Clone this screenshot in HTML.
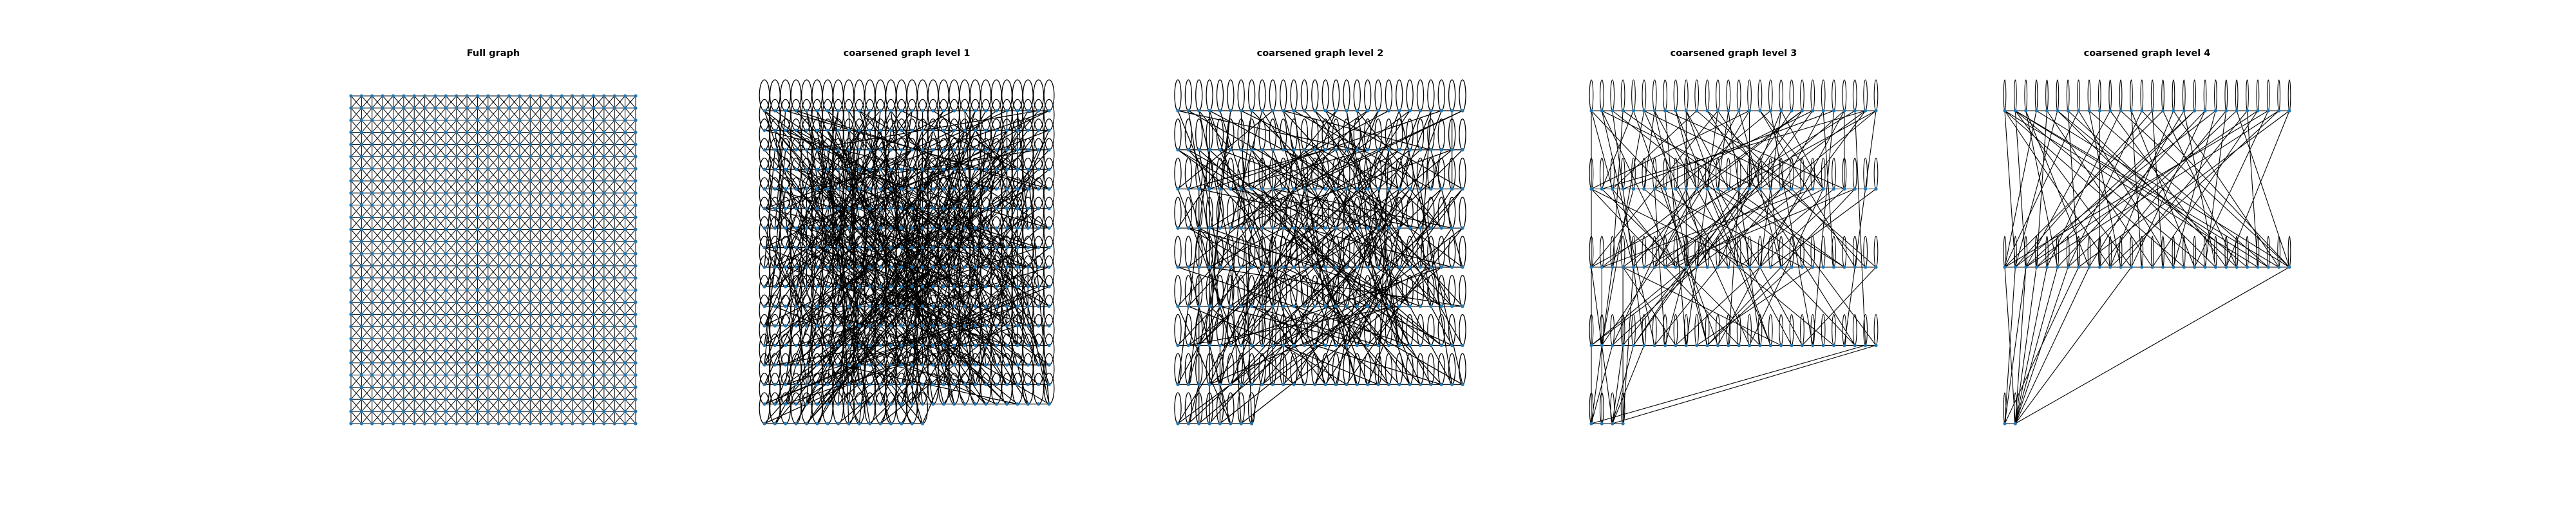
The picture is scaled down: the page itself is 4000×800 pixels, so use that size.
<!DOCTYPE html>
<html><head><meta charset="utf-8"><style>
html,body{margin:0;padding:0;background:#fff;}
svg{display:block;}
</style></head><body>
<svg id="fig" width="4000" height="800" viewBox="0 0 4000 800" xmlns="http://www.w3.org/2000/svg">
<rect width="4000" height="800" fill="#fff"/>
</svg>
<script>
const titles = ["Full graph","coarsened graph level 1","coarsened graph level 2","coarsened graph level 3","coarsened graph level 4"];
const rowCounts = [28, 17, 9, 5, 3];
const lastRowNodes = [28, 16, 8, 4, 2];
const l1Edges = [12,305,45,390,3,211,88,460,140,27,201,333,67,415,299,8,150,372,19,244,400,76,233,118,5,458,321,99,178,441,56,263,412,137,270,31,93,350,188,452,2,169,346,210,121,439,64,287,379,15,250,162,33,401,455,223,110,318,287,47,196,430,72,257,364,129,9,195,238,391,145,60,423,272,81,336,307,182,26,449,160,295,398,53,214,113,352,5,41,279,444,171,129,362,276,94,58,414,189,248,331,23,103,385,462,199,17,341,226,70,371,156,135,421,292,38,79,260,410,141,250,437,14,308,183,106,339,251,63,456,207,29,388,173,124,316,0,229,301,86,447,163,36,398,170,271,355,117,96,435,241,52,419,190,151,343,68,283,313,7,203,400,28,134,430,259,112,377,264,21,382,148,48,320,197,457,337,101,6,236,159,409,425,83,273,192,90,361,216,44,367,288,139,2,452,212,57,328,295,132,177,418,22,253,405,75,243,366,108,13,359,226,84,443,221,154,440,34,162,297,30,389,317,107,198,61,461,246,74,340,254,176,392,12,119,303,11,428,280,147,171,55,416,215,51,371,334,123,206,463,91,18,373,267,154,438,283,39,27,196,448,304,115,82,240,424,384,157,62,231,326,0,186,403,431,104,1,277,259,379,142,46,397,184,97,325,311,222,46,451,230,128,364,58,166,394,12,266,453,131,286,405,77,149,420,279,193,24,347,114,37,364,266,201,408,89,133,315,20,453,312,168,175,68,436,238,99,307,252,10,381,143,54,426,219,186,340,42,144,349,458,275,70,120,297,412,4,202,191,331,427,65,116,256,260,447,35,178,389,298,164,19,323,433,85,235,447,109,209,356,16,139,362,74,278,420,102,262,434,187,49,300,245,33,376,412,126,80,199,358,412,213,60,26,305,459,181,124,8,345,350,205,95,445,256,98,441,321,138,3,289,436,31,219,394,144,172,272,413,29,106,382,224,57,456,165,80,311,333,249,13,174,202,422,369,111,147,37,284,385,44,292,428,194,187,9,344,363,118,232,20,404,262,86,399,170,71,434,236,136,319,14,153,381,445,274,107,48,263,329,39,209,386,101,211,448,132,293,451,72,299,158,24,360,178,241,403,25,87,273,342,180,227,463,0,122,365,329,165,412,308,63,52,225,434,316,195,92,281,442,123,17,395,206,66,342,245,154,457,40,158,270,29,396,316,88,212,183,371,444,92,234,438,9,137,308,253,117,10,368,380,200,173,424,269,51,47,157,421,285,222,87,304,394,89,249,443,145,157,30,357,232,34,415,231,185,401,64,114,336,291,100,55,463,185,209,360,127,7,283,449,179,246,360,125,43,332,422,78,193,415,270,169,11,275,381,43,239,390,130,215,452,140,320,23,71,368,240,100,406,249,140,433,50,182,294,306,6,61,377,427,218,148,285,39,437,328,196,204,37,459,108,82,353,232,4];
const l2Edges = [0,45,3,120,15,201,27,88,40,166,56,9,71,190,84,33,99,145,110,212,6,77,123,51,137,230,148,19,160,94,175,2,188,63,199,128,214,37,225,81,11,154,32,180,47,109,58,226,66,140,79,17,91,202,103,58,117,171,130,24,143,207,155,72,168,119,179,4,193,96,206,150,218,43,229,113,20,62,35,185,50,131,64,221,75,12,87,163,98,29,114,198,126,85,139,52,151,216,164,107,176,36,187,147,200,67,212,178,223,21,8,99,24,135,39,213,53,80,69,157,82,26,95,192,107,61,121,174,134,7,146,103,158,228,170,49,183,124,195,14,208,90,219,156,1,70,17,189,30,116,44,224,60,5,73,139,86,210,101,41,115,167,128,92,141,18,153,203,166,76,177,136,191,30,204,111,216,64,228,172,13,104,28,193,42,57,55,152,68,231,80,11,93,176,106,38,119,125,132,209,144,1,156,86,169,161,181,47,196,118,209,23,221,181,5,143,22,68,37,205,49,93,63,18,77,169,89,54,102,222,116,133,129,35,142,197,154,78,167,10,180,158,194,44,207,129,220,100,231,6,10,126,25,59,41,219,54,148,67,27,81,184,94,115,108,3,120,199,133,65,147,182,159,31,172,137,184,83,198,225,211,48,224,155,7,200,21,74,36,165,52,10,65,110,78,227,92,42,105,187,118,97,131,16,145,153,157,218,171,60,186,144,197,8,210,122,222,79,2,33,19,179,34,102,48,215,61,46,76,130,90,15,104,204,113,66,127,162,140,229,152,95,165,28,178,191,190,112,203,56,215,141,227,3,14,83,31,196,45,121,59,0,72,170,85,223,97,50,111,186,124,22,138,114,150,211,162,40,174,149,189,75,201,127,213,9,226,108,16,159,29,217,43,87,57,173,70,32,83,206,96,138,109,13,122,194,136,71,149,39,161,214,173,101,185,25,199,160,210,82,230,117];
const l3Edges = [0,35,0,60,1,44,1,90,2,31,2,77,3,58,4,29,4,96,5,48,5,85,6,33,6,70,7,52,8,38,8,101,9,65,10,30,10,83,11,47,12,56,12,93,13,40,14,74,15,28,15,62,16,50,17,36,17,105,18,68,19,42,20,57,20,88,21,34,22,46,22,79,23,31,24,63,25,41,25,110,26,29,27,54,27,84,28,71,29,100,30,64,31,89,32,58,33,107,34,76,35,95,36,69,37,86,38,60,39,103,40,80,41,59,42,97,43,66,44,111,45,74,46,90,47,61,48,84,49,57,50,99,51,70,52,92,53,63,54,108,55,73,28,98,31,60,34,91,37,67,40,104,43,87,47,82,50,64,53,95,56,78,59,102,62,85,65,91,68,57,71,100,74,109,77,94,80,62,83,104,86,66,89,111,92,59,95,75,98,84,112,58,112,86,112,84,113,57,114,85,114,87,114,88,114,89,114,56,115,59,115,60,114,111,112,110,3,80,9,101,14,62,19,88,24,96,26,71,11,109,7,93,16,81,21,66,23,105,18,72,13,100,6,95,1,64,27,56,26,62,0,84,5,99,9,41,15,43,20,38,24,52,12,45,18,50];
const l4Edges = [0,29,0,38,0,45,0,52,1,30,1,40,1,47,1,53,1,54,2,33,2,36,3,28,3,55,4,31,4,42,5,29,5,48,5,51,6,35,6,50,7,28,7,44,8,39,8,53,9,37,10,30,10,49,11,32,11,55,12,41,12,46,13,34,13,55,14,29,14,43,15,28,15,50,16,38,16,54,17,36,17,48,18,31,18,30,19,40,19,33,20,44,20,29,21,47,21,37,22,34,22,55,23,39,23,52,24,42,24,30,25,28,25,46,26,31,26,38,27,49,27,35,56,30,56,29,57,30,57,31,57,32,57,33,57,34,57,36,57,40,57,55,56,35,57,28];
const edgeLists = [null, l1Edges, l2Edges, l3Edges, l4Edges];

const NS = "http://www.w3.org/2000/svg";
const svg = document.getElementById("fig");
const COLS = 28, HALF = 221, TOP_FULL = 149, TOP = 172, BOTTOM = 658;
const centers = [766, 1408, 2050, 2692, 3334];
const loopRx = [0, 7.8, 5, 2.8, 1.8];
const edgeW = [1, 1.3, 1.3, 1.1, 1.1];
const LOOP_H = 48;

function mk(tag, attrs, parent) {
  const e = document.createElementNS(NS, tag);
  for (const k in attrs) e.setAttribute(k, attrs[k]);
  parent.appendChild(e);
  return e;
}
function xPos(p, c) { return centers[p] - HALF + c * (2 * HALF) / (COLS - 1); }
function yPos(p, r) { const t = p === 0 ? TOP_FULL : TOP; return t + r * (BOTTOM - t) / (rowCounts[p] - 1); }
function nodeXY(p, i) { const r = Math.floor(i / COLS), c = i % COLS; return [xPos(p, c), yPos(p, r)]; }
function nodeCount(p) { return (rowCounts[p] - 1) * COLS + lastRowNodes[p]; }

for (let p = 0; p < 5; p++) {
  const g = mk("g", {}, svg);
  
  
  const t = mk("text", {x: centers[p], y: 87, "text-anchor": "middle", "font-family": "DejaVu Sans, Liberation Sans, sans-serif", "font-weight": "bold", "font-size": "14.5", fill: "#000"}, g);
  t.textContent = titles[p];
  
  
  const eg = mk("g", {stroke: "#000", "stroke-width": edgeW[p], fill: "none"}, g);
  
  
  let d = "";
  const n = nodeCount(p);
  if (p === 0) {
    for (let r = 0; r < COLS; r++) for (let c = 0; c < COLS; c++) {
      const x = xPos(0, c), y = yPos(0, r);
      if (c < COLS - 1) d += `M${x},${y}L${xPos(0, c + 1)},${y}`;
      if (r < COLS - 1) d += `M${x},${y}L${x},${yPos(0, r + 1)}`;
      if (c < COLS - 1 && r < COLS - 1) {
        d += `M${x},${y}L${xPos(0, c + 1)},${yPos(0, r + 1)}`;
        d += `M${xPos(0, c + 1)},${y}L${x},${yPos(0, r + 1)}`;
      }
    }
  } else {
    for (let i = 0; i < n - 1; i++) {
      if ((i + 1) % COLS === 0) continue;
      const a = nodeXY(p, i), b = nodeXY(p, i + 1);
      d += `M${a[0]},${a[1]}L${b[0]},${b[1]}`;
    }
    const el = edgeLists[p];
    for (let k = 0; k + 1 < el.length; k += 2) {
      if (el[k] >= n || el[k + 1] >= n) continue;
      const a = nodeXY(p, el[k]), b = nodeXY(p, el[k + 1]);
      d += `M${a[0]},${a[1]}L${b[0]},${b[1]}`;
    }
    const rx = loopRx[p];
    for (let i = 0; i < n; i++) {
      const a = nodeXY(p, i);
      d += `M${a[0]},${a[1]}A${rx},${LOOP_H / 2} 0 1 1 ${a[0] + 0.01},${a[1]}`;
    }
  }
  const path = mk("path", {d: d}, eg);
  
  
  const ng = mk("g", {fill: "#1f77b4"}, g);
  
  
  for (let i = 0; i < n; i++) {
    const a = nodeXY(p, i);
    const c = mk("circle", {cx: a[0], cy: a[1], r: 2.6}, ng);
    
    
  }
}
</script>
</body></html>
